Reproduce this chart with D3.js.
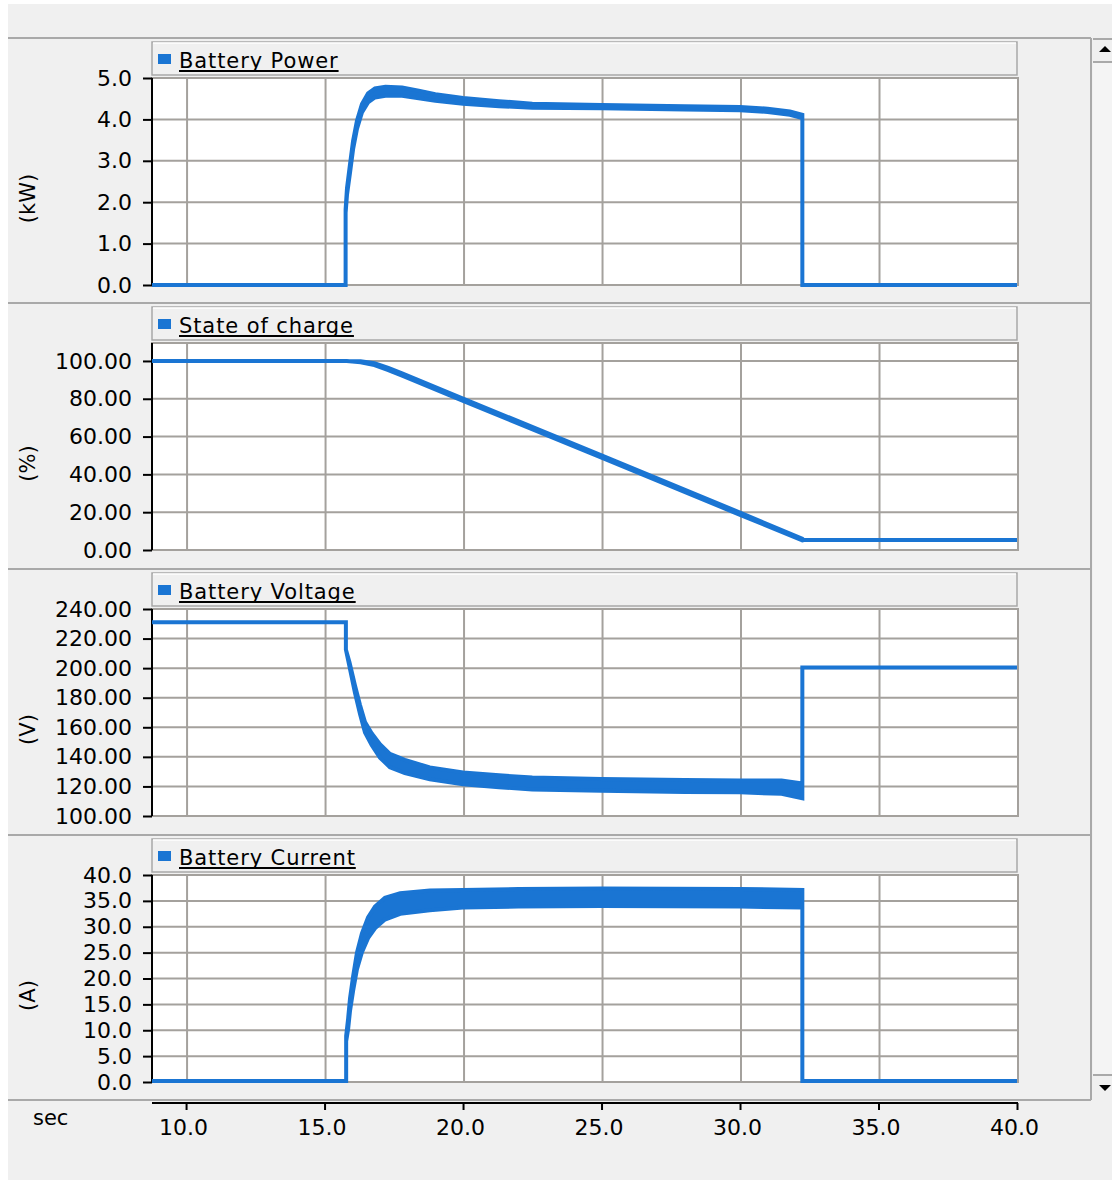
<!DOCTYPE html>
<html>
<head>
<meta charset="utf-8">
<script src="https://cdn.jsdelivr.net/npm/d3@7"></script>
<style>
  body { margin: 0; background: #ffffff; }
  svg { display: block; font-family: "DejaVu Sans", Verdana, sans-serif; }
</style>
</head>
<body>
<div id="chart"></div>
<script>
// time axis (sec)
const timeTicks = [10, 15, 20, 25, 30, 35, 40];

// Battery Power (kW): time, mid value, ripple half-width
const powerT = [8.77, 15.76, 15.76, 15.81, 15.92, 16.03, 16.17, 16.35, 16.57, 16.82, 17.2, 17.8, 18.4, 19.0, 20.0, 21.3, 22.5, 25.0, 28.0, 30.0, 31.0, 31.8, 32.25, 32.25, 40];
const powerV = [0, 0, 1.78, 2.26, 2.82, 3.38, 3.87, 4.27, 4.52, 4.64, 4.68, 4.67, 4.6, 4.53, 4.45, 4.38, 4.33, 4.31, 4.28, 4.26, 4.22, 4.15, 4.07, 0, 0];
const powerR = [0, 0, 0.04, 0.08, 0.1, 0.1, 0.1, 0.1, 0.11, 0.11, 0.11, 0.1, 0.09, 0.08, 0.07, 0.06, 0.05, 0.04, 0.04, 0.04, 0.04, 0.04, 0.04, 0, 0];
const powerTicks = [0, 1, 2, 3, 4, 5];

// State of charge (%)
const socT = [8.77, 15.8, 16.3, 16.8, 17.3, 17.8, 20.0, 25.0, 30.0, 32.25, 32.3, 40];
const socV = [100, 100, 99.6, 98.3, 95.8, 92.8, 79.5, 49.5, 19.2, 5.5, 5.3, 5.3];
const socR = [0, 0, 0.3, 0.5, 0.6, 0.6, 0.6, 0.6, 0.6, 0.4, 0, 0];
const socTicks = [0, 20, 40, 60, 80, 100];

// Battery Voltage (V)
const voltT = [8.77, 15.77, 15.77, 15.9, 16.1, 16.28, 16.46, 16.7, 17.0, 17.36, 17.9, 18.8, 20.0, 21.3, 22.5, 25.0, 28.0, 30.0, 31.5, 32.25, 32.25, 40];
const voltV = [231, 231, 212.5, 202.5, 185.7, 172, 160, 152, 144, 137.5, 133.5, 128.8, 125.5, 123.5, 122, 121, 120.3, 120, 119.5, 117, 200.5, 200.5];
const voltR = [0, 0, 0, 1.5, 2.5, 3, 3.5, 4, 4.5, 4.5, 4.5, 4, 4, 4, 4, 4, 4, 4, 4.5, 5, 0, 0];
const voltTicks = [100, 120, 140, 160, 180, 200, 220, 240];

// Battery Current (A)
const currT = [8.77, 15.78, 15.78, 15.85, 15.92, 16.03, 16.17, 16.35, 16.57, 16.82, 17.18, 17.73, 18.8, 20.0, 22.0, 25.0, 30.0, 32.25, 32.25, 40];
const currV = [0.2, 0.2, 8.4, 11.2, 15, 19, 23.4, 26.9, 29.8, 31.8, 33.5, 34.5, 35.1, 35.4, 35.6, 35.7, 35.6, 35.4, 0.2, 0.2];
const currR = [0, 0, 0.5, 1, 1.2, 1.4, 1.6, 1.8, 2, 2.1, 2.1, 2, 1.9, 1.7, 1.7, 1.7, 1.7, 1.7, 0, 0];
const currTicks = [0, 5, 10, 15, 20, 25, 30, 35, 40];

const W = 1112, H = 1183;
const blue = '#1a75d3';
const grid = '#a4a19d';
const plotLeft = 152, plotRight = 1018;
const seps = [38, 303, 569, 835, 1100];

const svg = d3.select('#chart').append('svg')
    .attr('width', W)
    .attr('height', H);

svg.append('rect').attr('x', 8).attr('y', 4).attr('width', W - 8).attr('height', H - 7).attr('fill', '#f0f0f0');

const x = d3.scaleLinear().domain([8.77, 40]).range([plotLeft, 1017]);

// separators
seps.forEach(s => {
    svg.append('line').attr('x1', 8).attr('x2', 1091).attr('y1', s).attr('y2', s)
        .attr('stroke', '#a9a9a9').attr('stroke-width', 2);
});

const panels = [
    { title: 'Battery Power', unit: '(kW)', t: powerT, v: powerV, r: powerR, ticks: powerTicks, domain: [0, 5], fmt: '.1f' },
    { title: 'State of charge', unit: '(%)', t: socT, v: socV, r: socR, ticks: socTicks, domain: [0, 109.5], fmt: '.2f' },
    { title: 'Battery Voltage', unit: '(V)', t: voltT, v: voltV, r: voltR, ticks: voltTicks, domain: [100, 240], fmt: '.2f' },
    { title: 'Battery Current', unit: '(A)', t: currT, v: currV, r: currR, ticks: currTicks, domain: [0, 40], fmt: '.1f' }
];

panels.forEach((p, i) => {
    const top = seps[i] + 40;
    const bottom = seps[i] + 247;
    const g = svg.append('g');

    // legend box
    const ly = seps[i] + 4;
    g.append('rect').attr('x', plotLeft).attr('y', ly).attr('width', plotRight - plotLeft - 1).attr('height', 33)
        .attr('fill', '#f0f0f0').attr('stroke', '#a8a8a8').attr('stroke-width', 1.5);
    g.append('line').attr('x1', plotLeft + 1).attr('x2', plotRight - 2).attr('y1', ly + 1).attr('y2', ly + 1)
        .attr('stroke', '#ffffff').attr('stroke-width', 1.5);
    g.append('rect').attr('x', 158).attr('y', ly + 12).attr('width', 13).attr('height', 10).attr('fill', blue);
    const lt = g.append('text').attr('x', 179).attr('y', ly + 26)
        .attr('font-size', 21).attr('letter-spacing', 0.9).attr('fill', '#000')
        .text(p.title);
    const tw = lt.node().getComputedTextLength();
    g.append('line').attr('x1', 179).attr('x2', 179 + tw).attr('y1', ly + 29).attr('y2', ly + 29)
        .attr('stroke', '#000').attr('stroke-width', 2);

    const y = d3.scaleLinear().domain(p.domain).range([bottom, top]);

    // plot background
    g.append('rect').attr('x', plotLeft).attr('y', top).attr('width', plotRight - plotLeft).attr('height', bottom - top)
        .attr('fill', '#ffffff').attr('stroke', grid).attr('stroke-width', 2);

    // grid
    g.selectAll('.hg').data(p.ticks).enter().append('line')
        .attr('x1', plotLeft).attr('x2', plotRight)
        .attr('y1', d => y(d)).attr('y2', d => y(d))
        .attr('stroke', grid).attr('stroke-width', 2);
    g.selectAll('.vg').data(timeTicks).enter().append('line')
        .attr('x1', d => x(d) + 1).attr('x2', d => x(d) + 1)
        .attr('y1', top).attr('y2', bottom)
        .attr('stroke', grid).attr('stroke-width', 2);

    // left axis
    const axis = d3.axisLeft(y).tickValues(p.ticks).tickFormat(d3.format(p.fmt)).tickSize(9).tickPadding(11);
    const ax = g.append('g').attr('transform', `translate(${plotLeft},0)`).call(axis);
    ax.select('.domain').attr('stroke', '#000').attr('stroke-width', 2).attr('d', `M0,${top}V${bottom}`);
    ax.selectAll('.tick line').attr('stroke', '#000').attr('stroke-width', 2);
    ax.selectAll('.tick text').attr('font-size', 22).attr('font-family', '"DejaVu Sans", Verdana, sans-serif').attr('fill', '#000');

    // unit label
    g.append('text')
        .attr('transform', `translate(35,${(top + bottom) / 2 + 17}) rotate(-90)`)
        .attr('text-anchor', 'middle')
        .attr('font-size', 21).attr('fill', '#000')
        .text(p.unit);

    // series band
    const pts = p.t.map((t, k) => ({ t: t, v: p.v[k], r: p.r[k] }));
    const area = d3.area()
        .x(d => x(d.t))
        .y0(d => y(d.v - d.r))
        .y1(d => y(d.v + d.r));
    g.append('path').datum(pts)
        .attr('d', area)
        .attr('fill', blue)
        .attr('stroke', blue)
        .attr('stroke-width', 4)
        .attr('stroke-linejoin', 'miter');
});

// bottom time axis
const bx = d3.axisBottom(x).tickValues(timeTicks).tickFormat(d3.format('.1f')).tickSize(7).tickPadding(9);
const bax = svg.append('g').attr('transform', 'translate(0,1103)').call(bx);
bax.select('.domain').attr('stroke', '#000').attr('stroke-width', 2).attr('d', 'M152,0H1018');
bax.selectAll('.tick line').attr('stroke', '#000').attr('stroke-width', 2);
bax.selectAll('.tick text').attr('font-size', 22).attr('font-family', '"DejaVu Sans", Verdana, sans-serif')
    .attr('fill', '#000').attr('dx', -3);

svg.append('text').attr('x', 33).attr('y', 1125).attr('font-size', 21).attr('fill', '#000').text('sec');

// scrollbar
svg.append('line').attr('x1', 1091).attr('x2', 1091).attr('y1', 38).attr('y2', 1100)
    .attr('stroke', '#a9a9a9').attr('stroke-width', 2);
svg.append('rect').attr('x', 1093).attr('y', 63).attr('width', 19).attr('height', 1012).attr('fill', '#f4f4f4');
svg.append('line').attr('x1', 1093).attr('x2', 1112).attr('y1', 62).attr('y2', 62).attr('stroke', '#a9a9a9').attr('stroke-width', 2);
svg.append('line').attr('x1', 1093).attr('x2', 1112).attr('y1', 1075).attr('y2', 1075).attr('stroke', '#a9a9a9').attr('stroke-width', 2);
svg.append('line').attr('x1', 1093).attr('x2', 1112).attr('y1', 39).attr('y2', 39).attr('stroke', '#a9a9a9').attr('stroke-width', 2);
svg.append('path').attr('d', 'M1105,46L1111,52L1099,52Z').attr('fill', '#000');
svg.append('path').attr('d', 'M1099,1085L1111,1085L1105,1091Z').attr('fill', '#000');
</script>
</body>
</html>
